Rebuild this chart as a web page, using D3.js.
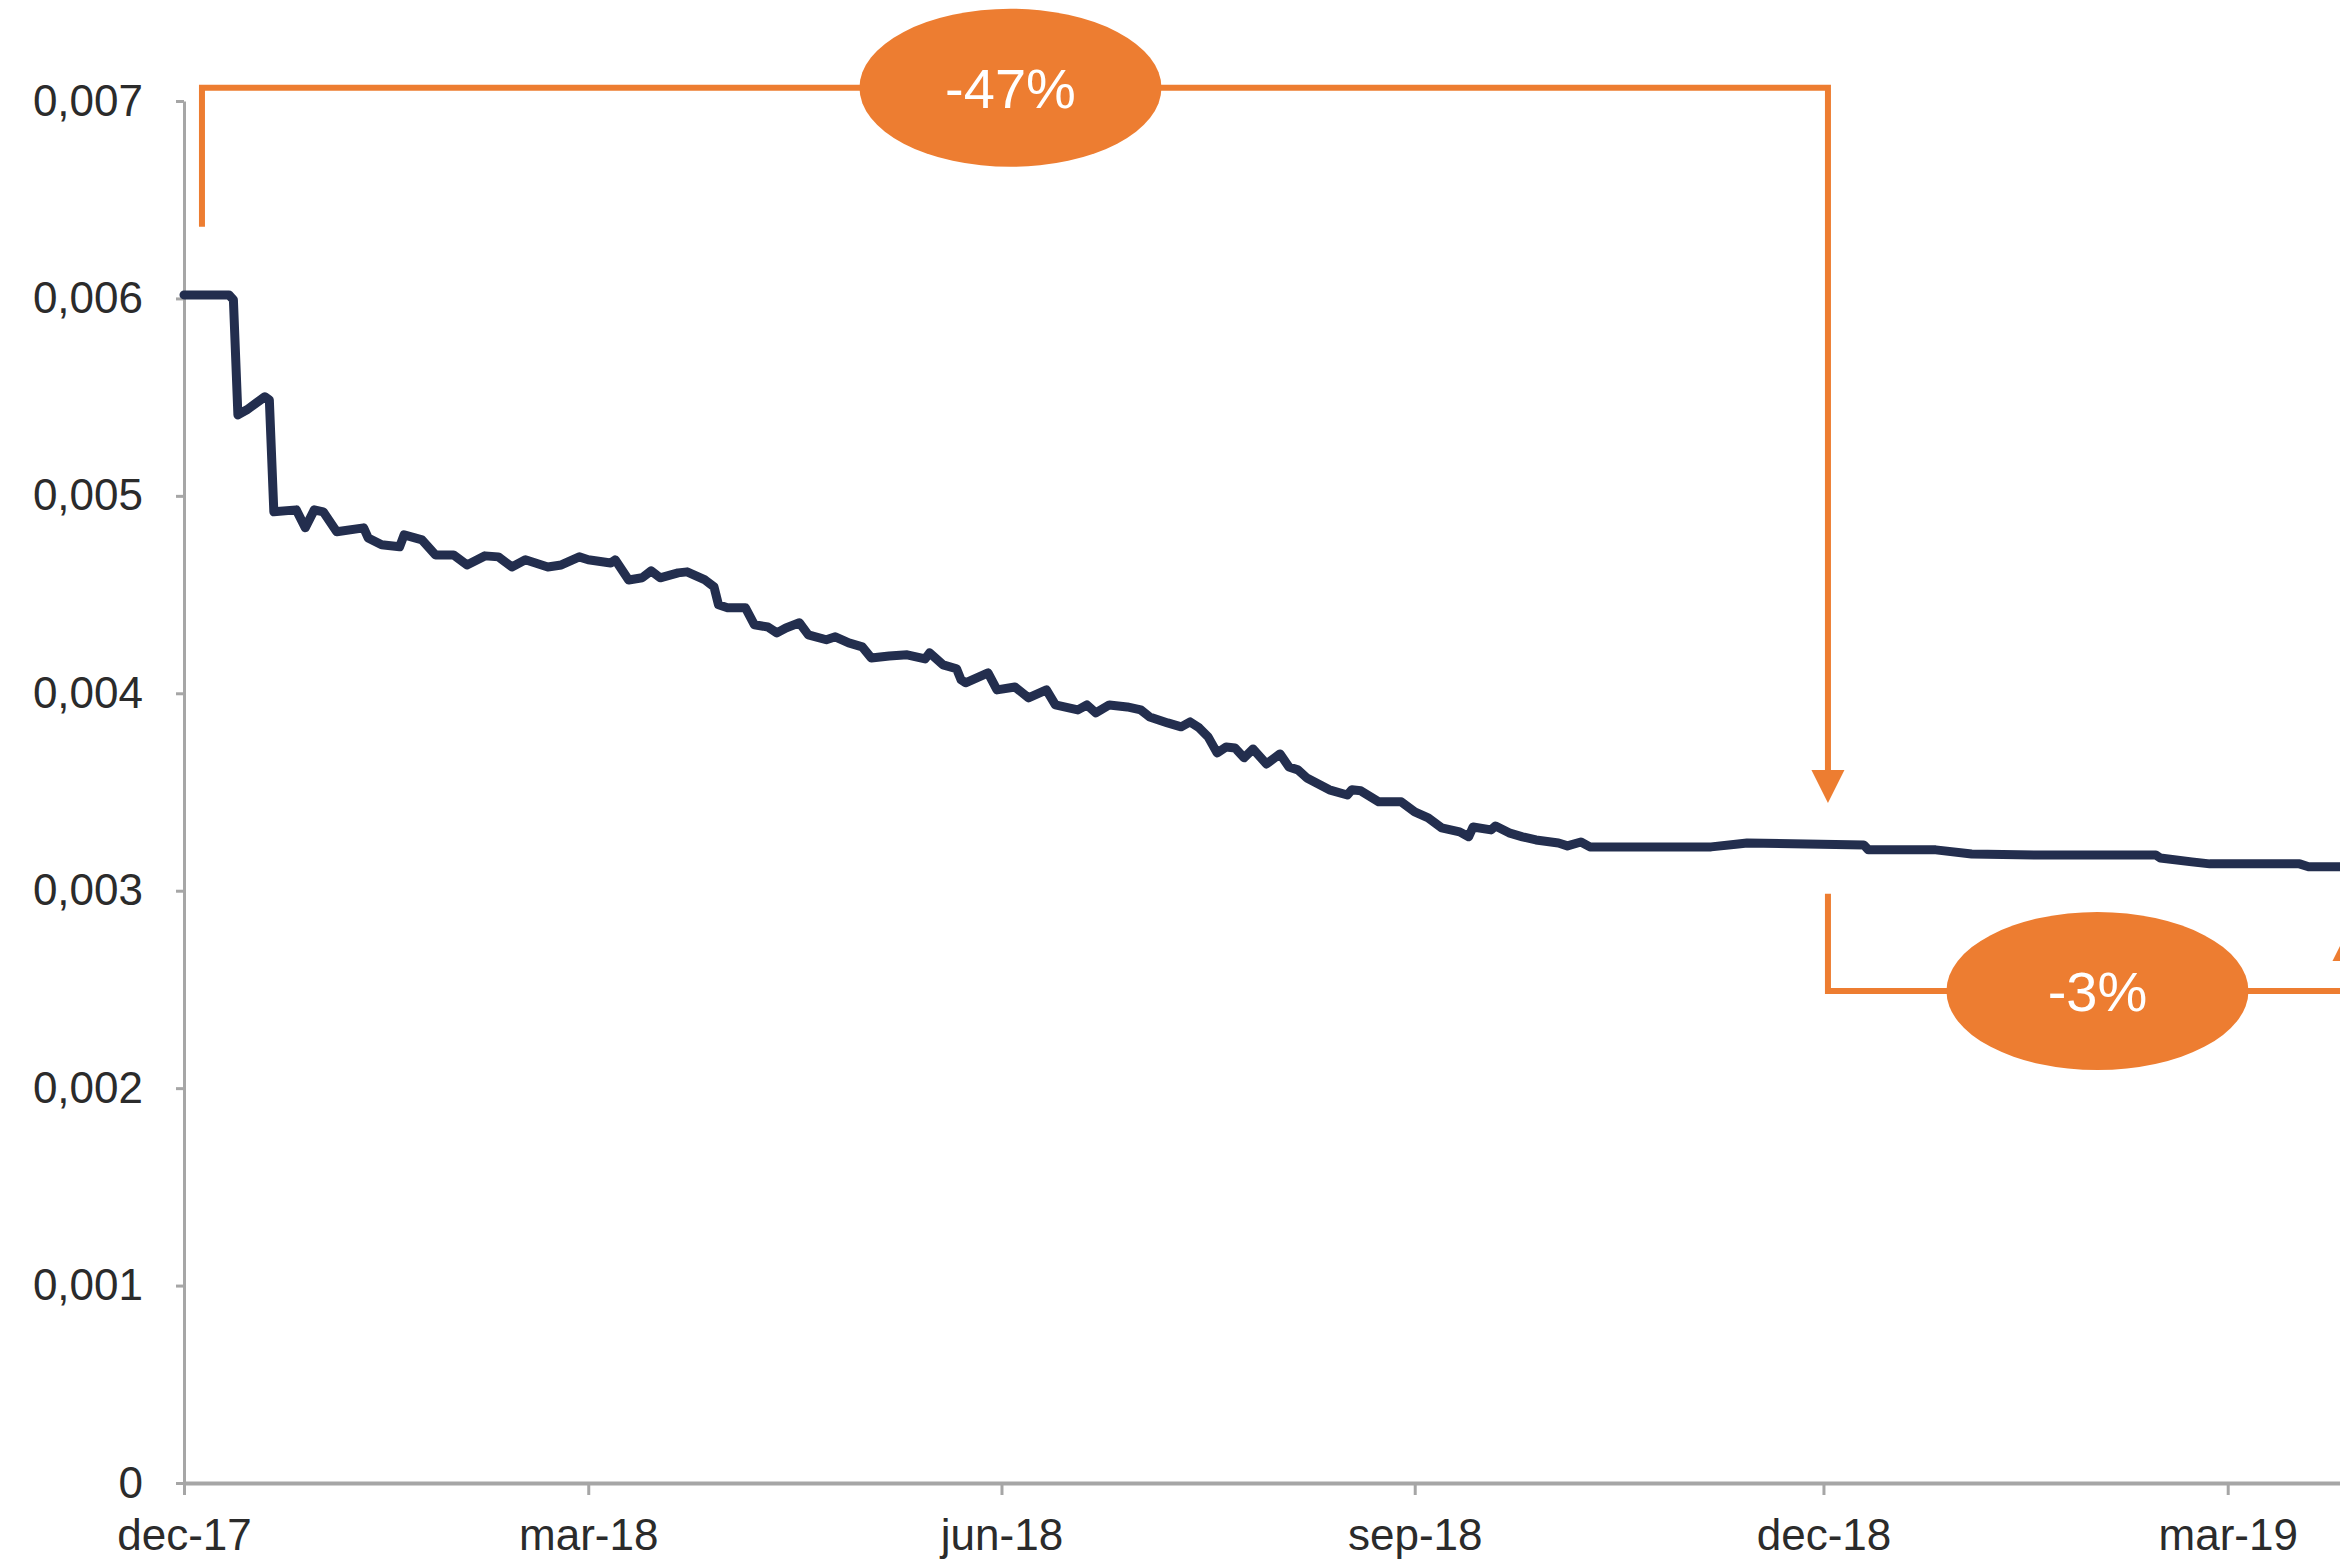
<!DOCTYPE html>
<html>
<head>
<meta charset="utf-8">
<script src="https://cdn.jsdelivr.net/npm/d3@7"></script>
<style>
  body { margin: 0; background: #fff; }
  svg { display: block; }
  .axis text { font-family: "Liberation Sans", Arial, sans-serif; font-size: 44px; fill: #2b2b2b; }
</style>
</head>
<body>
<svg id="chart"></svg>
<script>

// daily series (date, value)
var dates = [
  "2017-12-01","2017-12-11","2017-12-12","2017-12-13","2017-12-15","2017-12-19","2017-12-20","2017-12-21",
  "2017-12-26","2017-12-28","2017-12-30","2018-01-01","2018-01-04","2018-01-10","2018-01-11","2018-01-14",
  "2018-01-18","2018-01-19","2018-01-23","2018-01-26","2018-01-30","2018-02-02","2018-02-06","2018-02-09",
  "2018-02-12","2018-02-15","2018-02-20","2018-02-23","2018-02-27","2018-03-01","2018-03-06","2018-03-07",
  "2018-03-10","2018-03-13","2018-03-15","2018-03-17","2018-03-21","2018-03-23","2018-03-27","2018-03-29",
  "2018-03-30","2018-04-01","2018-04-05","2018-04-07","2018-04-10","2018-04-12","2018-04-14","2018-04-17",
  "2018-04-19","2018-04-23","2018-04-25","2018-04-28","2018-05-01","2018-05-03","2018-05-07","2018-05-11",
  "2018-05-15","2018-05-16","2018-05-19","2018-05-22","2018-05-23","2018-05-24","2018-05-27","2018-05-29",
  "2018-05-31","2018-06-04","2018-06-07","2018-06-11","2018-06-13","2018-06-18","2018-06-20","2018-06-22",
  "2018-06-25","2018-06-29","2018-07-02","2018-07-04","2018-07-08","2018-07-11","2018-07-13","2018-07-15",
  "2018-07-17","2018-07-19","2018-07-21","2018-07-23","2018-07-25","2018-07-27","2018-07-30","2018-08-02",
  "2018-08-04","2018-08-06","2018-08-08","2018-08-13","2018-08-17","2018-08-18","2018-08-20","2018-08-24",
  "2018-08-29","2018-09-01","2018-09-04","2018-09-07","2018-09-11","2018-09-13","2018-09-14","2018-09-18",
  "2018-09-19","2018-09-22","2018-09-25","2018-09-28","2018-10-03","2018-10-05","2018-10-08","2018-10-10",
  "2018-11-06","2018-11-12","2018-11-14","2018-12-10","2018-12-11","2018-12-26","2019-01-03","2019-01-17",
  "2019-02-13","2019-02-14","2019-02-21","2019-02-25","2019-03-17","2019-03-19","2019-03-26"
];

var values = [
  0.006018,0.006018,0.005993,0.005410,0.005436,0.005502,0.005486,0.004919,
  0.004929,0.004838,0.004929,0.004919,0.004818,0.004838,0.004787,0.004752,
  0.004742,0.004802,0.004777,0.004701,0.004701,0.004650,0.004696,0.004691,
  0.004640,0.004676,0.004640,0.004650,0.004691,0.004676,0.004660,0.004676,
  0.004574,0.004585,0.004620,0.004585,0.004610,0.004615,0.004574,0.004539,
  0.004448,0.004433,0.004433,0.004347,0.004336,0.004306,0.004331,0.004357,
  0.004296,0.004271,0.004286,0.004255,0.004235,0.004179,0.004189,0.004195,
  0.004174,0.004205,0.004144,0.004124,0.004068,0.004053,0.004083,0.004103,
  0.004017,0.004032,0.003977,0.004017,0.003941,0.003916,0.003941,0.003901,
  0.003941,0.003931,0.003916,0.003880,0.003850,0.003830,0.003855,0.003825,
  0.003779,0.003698,0.003728,0.003723,0.003673,0.003718,0.003642,0.003693,
  0.003627,0.003612,0.003571,0.003511,0.003485,0.003511,0.003506,0.003450,
  0.003450,0.003399,0.003369,0.003318,0.003298,0.003273,0.003323,0.003308,
  0.003328,0.003293,0.003273,0.003257,0.003242,0.003227,0.003247,0.003222,
  0.003222,0.003237,0.003242,0.003232,0.003207,0.003207,0.003186,0.003181,
  0.003181,0.003166,0.003146,0.003136,0.003136,0.003121,0.003121
];

// axis ticks
var xTickDates = ["2017-12-01","2018-03-01","2018-06-01","2018-09-01","2018-12-01","2019-03-01"];
var xTickLabels = ["dec-17","mar-18","jun-18","sep-18","dec-18","mar-19"];
var yTicks = [0, 0.001, 0.002, 0.003, 0.004, 0.005, 0.006, 0.007];

// orange change callouts
var callLabels = ["-47%", "-3%"];
var callCenters = [["2018-06-03", 0.007067], ["2019-01-31", 0.002492]];

var width = 2340,
    height = 1559;

var parse = d3.timeParse("%Y-%m-%d");

var series = dates.map(function (d, i) {
  return { date: parse(d), value: values[i] };
});

var x = d3.scaleTime()
    .domain([parse("2017-12-01"), parse("2019-03-26")])
    .range([184, 2340]);

var y = d3.scaleLinear()
    .domain([0, 0.007])
    .range([1483, 101]);

var svg = d3.select("#chart")
    .attr("width", width)
    .attr("height", height);

var orange = "#ed7d31",
    navy = "#232e4e",
    grey = "#a6a6a6";

var comma = d3.formatLocale({ decimal: ",", thousands: ".", grouping: [3], currency: ["", ""] });

//y axis
var yAxis = svg.append("g")
    .attr("class", "axis")
    .attr("transform", "translate(" + x.range()[0] + ",0)")
    .call(d3.axisLeft(y)
      .tickValues(yTicks)
      .tickSize(8)
      .tickSizeOuter(0)
      .tickPadding(33)
      .tickFormat(function (d) { return d === 0 ? "0" : comma.format(".3f")(d); }));
yAxis.select(".domain").attr("stroke", grey).attr("stroke-width", 3);
yAxis.selectAll(".tick line").attr("stroke", grey).attr("stroke-width", 3);

//x axis
var xAxis = svg.append("g")
    .attr("class", "axis")
    .attr("transform", "translate(0," + y(0) + ")")
    .call(d3.axisBottom(x)
      .tickValues(xTickDates.map(parse))
      .tickSize(12)
      .tickSizeOuter(0)
      .tickPadding(24)
      .tickFormat(function (d, i) { return xTickLabels[i]; }));
xAxis.select(".domain").attr("stroke", grey).attr("stroke-width", 4);
xAxis.selectAll(".tick line").attr("stroke", grey).attr("stroke-width", 3);

//the series line
var line = d3.line()
    .x(function (d) { return x(d.date); })
    .y(function (d) { return y(d.value); });

svg.append("path")
    .datum(series)
    .attr("fill", "none")
    .attr("stroke", navy)
    .attr("stroke-width", 9)
    .attr("stroke-linejoin", "round")
    .attr("stroke-linecap", "round")
    .attr("d", line);

//brackets
var ann = svg.append("g")
    .attr("fill", "none")
    .attr("stroke", orange)
    .attr("stroke-width", 6);

var bx0 = x(parse("2017-12-05")),
    bx1 = x(parse("2018-12-02")),
    byTop = y(callCenters[0][1]),
    byLeft = y(0.006363),
    byArrow = y(0.003612);

ann.append("path")
    .attr("d", "M" + bx0 + "," + byLeft + "V" + byTop + "H" + bx1 + "V" + byArrow);

var cy2 = y(callCenters[1][1]),
    bx2 = x(parse("2019-03-28")),
    byArrow2 = y(0.002644);

ann.append("path")
    .attr("d", "M" + bx1 + "," + y(0.002984) + "V" + cy2 + "H" + bx2 + "V" + byArrow2);

//arrow heads
var aw = 16.5, ah = 33;
svg.append("path")
    .attr("fill", orange)
    .attr("d", "M" + (bx1 - aw) + "," + byArrow + "L" + (bx1 + aw) + "," + byArrow + "L" + bx1 + "," + (byArrow + ah) + "Z");
svg.append("path")
    .attr("fill", orange)
    .attr("d", "M" + (bx2 - aw) + "," + byArrow2 + "L" + (bx2 + aw) + "," + byArrow2 + "L" + bx2 + "," + (byArrow2 - ah) + "Z");

//callout ellipses
var calls = svg.selectAll(".call")
    .data(callLabels)
    .enter().append("g")
    .attr("class", "call")
    .attr("transform", function (d, i) {
      return "translate(" + x(parse(callCenters[i][0])) + "," + y(callCenters[i][1]) + ")";
    });

calls.append("ellipse")
    .attr("rx", 151)
    .attr("ry", 79)
    .attr("fill", orange);

calls.append("text")
    .attr("text-anchor", "middle")
    .attr("dy", "0.36em")
    .attr("fill", "#fff")
    .style("font-family", "'Liberation Sans', Arial, sans-serif")
    .style("font-size", "56px")
    .text(function (d) { return d; });

</script>
</body>
</html>
